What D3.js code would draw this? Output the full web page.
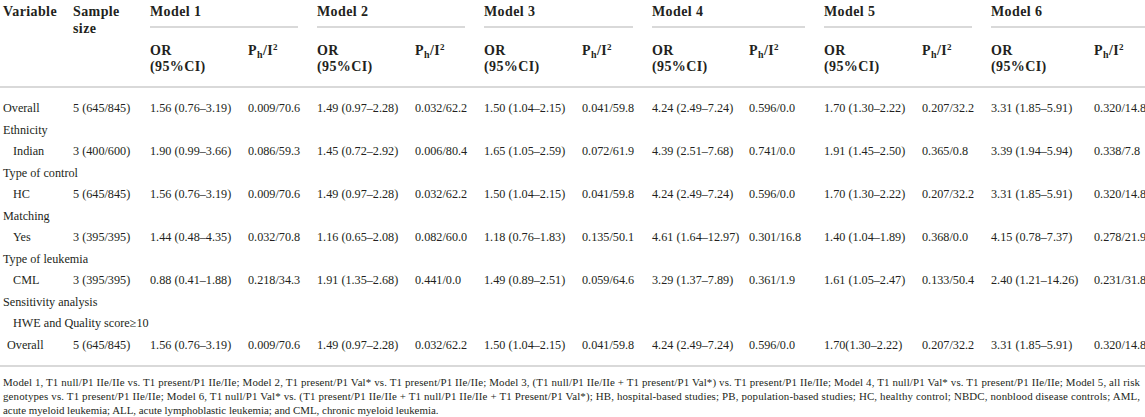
<!DOCTYPE html>
<html><head><meta charset="utf-8">
<script src="https://cdn.jsdelivr.net/npm/d3@7"></script>
<style>
html,body{margin:0;padding:0;background:#fff;}
text{font-family:"Liberation Serif","DejaVu Serif",serif;fill:#231f20;}
</style></head>
<body><svg id="c" width="1145" height="417"></svg>
<script>
// ---------- data ----------
const models = ["Model 1","Model 2","Model 3","Model 4","Model 5","Model 6"];
const rowLabels = ["Overall","Ethnicity","Indian","Type of control","HC","Matching","Yes","Type of leukemia","CML","Sensitivity analysis","HWE and Quality score≥10","Overall"];
const sampleSize = ["5 (645/845)",null,"3 (400/600)",null,"5 (645/845)",null,"3 (395/395)",null,"3 (395/395)",null,null,"5 (645/845)"];
const orM1 = ["1.56 (0.76–3.19)",null,"1.90 (0.99–3.66)",null,"1.56 (0.76–3.19)",null,"1.44 (0.48–4.35)",null,"0.88 (0.41–1.88)",null,null,"1.56 (0.76–3.19)"];
const phM1 = ["0.009/70.6",null,"0.086/59.3",null,"0.009/70.6",null,"0.032/70.8",null,"0.218/34.3",null,null,"0.009/70.6"];
const orM2 = ["1.49 (0.97–2.28)",null,"1.45 (0.72–2.92)",null,"1.49 (0.97–2.28)",null,"1.16 (0.65–2.08)",null,"1.91 (1.35–2.68)",null,null,"1.49 (0.97–2.28)"];
const phM2 = ["0.032/62.2",null,"0.006/80.4",null,"0.032/62.2",null,"0.082/60.0",null,"0.441/0.0",null,null,"0.032/62.2"];
const orM3 = ["1.50 (1.04–2.15)",null,"1.65 (1.05–2.59)",null,"1.50 (1.04–2.15)",null,"1.18 (0.76–1.83)",null,"1.49 (0.89–2.51)",null,null,"1.50 (1.04–2.15)"];
const phM3 = ["0.041/59.8",null,"0.072/61.9",null,"0.041/59.8",null,"0.135/50.1",null,"0.059/64.6",null,null,"0.041/59.8"];
const orM4 = ["4.24 (2.49–7.24)",null,"4.39 (2.51–7.68)",null,"4.24 (2.49–7.24)",null,"4.61 (1.64–12.97)",null,"3.29 (1.37–7.89)",null,null,"4.24 (2.49–7.24)"];
const phM4 = ["0.596/0.0",null,"0.741/0.0",null,"0.596/0.0",null,"0.301/16.8",null,"0.361/1.9",null,null,"0.596/0.0"];
const orM5 = ["1.70 (1.30–2.22)",null,"1.91 (1.45–2.50)",null,"1.70 (1.30–2.22)",null,"1.40 (1.04–1.89)",null,"1.61 (1.05–2.47)",null,null,"1.70(1.30–2.22)"];
const phM5 = ["0.207/32.2",null,"0.365/0.8",null,"0.207/32.2",null,"0.368/0.0",null,"0.133/50.4",null,null,"0.207/32.2"];
const orM6 = ["3.31 (1.85–5.91)",null,"3.39 (1.94–5.94)",null,"3.31 (1.85–5.91)",null,"4.15 (0.78–7.37)",null,"2.40 (1.21–14.26)",null,null,"3.31 (1.85–5.91)"];
const phM6 = ["0.320/14.8",null,"0.338/7.8",null,"0.320/14.8",null,"0.278/21.9",null,"0.231/31.8",null,null,"0.320/14.8"];
const footnotes = [
 "Model 1, T1 null/P1 IIe/IIe vs. T1 present/P1 IIe/IIe; Model 2, T1 present/P1 Val* vs. T1 present/P1 IIe/IIe; Model 3, (T1 null/P1 IIe/IIe + T1 present/P1 Val*) vs. T1 present/P1 IIe/IIe; Model 4, T1 null/P1 Val* vs. T1 present/P1 IIe/IIe; Model 5, all risk",
 "genotypes vs. T1 present/P1 IIe/IIe; Model 6, T1 null/P1 Val* vs. (T1 present/P1 IIe/IIe + T1 null/P1 IIe/IIe + T1 Present/P1 Val*); HB, hospital-based studies; PB, population-based studies; HC, healthy control; NBDC, nonblood disease controls; AML,",
 "acute myeloid leukemia; ALL, acute lymphoblastic leukemia; and CML, chronic myeloid leukemia."
];

// ---------- layout ----------
const W = 1145;
const svg = d3.select("#c");
const orCols = [orM1,orM2,orM3,orM4,orM5,orM6];
const phCols = [phM1,phM2,phM3,phM4,phM5,phM6];
const orX = [150,317,484,652,824,991];
const phX = [248,415,582,749,922,1094];
const rowIndentX = [3,3,13,3,13,3,13,3,13,3,13,7];
const y = d3.scaleLinear().domain([0, rowLabels.length-1]).range([108, 344.5]);
const lineColor = "#cdcdcd";

function txt(x, yy, s, opts={}) {
  return svg.append("text").attr("x", x).attr("y", yy).attr("dy","0.35em")
    .attr("font-size", opts.size || 12.2)
    .attr("font-weight", opts.bold ? "bold" : "normal")
    .attr("letter-spacing", opts.ls || 0)
    .text(s);
}

// header
const H = {size:14, bold:true, ls:0.4};
txt(3, 11, "Variable", H);
txt(73, 11, "Sample", H);
txt(73, 28, "size", H);
models.forEach((m,i) => {
  txt(orX[i], 11, m, H);
  const x2 = i < models.length-1 ? orX[i+1]-19 : W;
  svg.append("line").attr("x1", orX[i]).attr("x2", x2).attr("y1", 27).attr("y2", 27)
    .attr("stroke", lineColor).attr("stroke-width", 1.5);
  txt(orX[i], 50, "OR", H);
  txt(orX[i], 66, "(95%CI)", H);
  const t = txt(phX[i], 50, "", H);
  t.append("tspan").text("P");
  t.append("tspan").attr("font-size", 10).attr("baseline-shift","-3").text("h");
  t.append("tspan").text("/I");
  t.append("tspan").attr("font-size", 9).attr("baseline-shift","5").text("2");
});
svg.append("line").attr("x1",0).attr("x2",W).attr("y1",87).attr("y2",87)
  .attr("stroke", lineColor).attr("stroke-width",1.5);

// body
rowLabels.forEach((lab,i) => {
  const yy = y(i);
  txt(rowIndentX[i], yy, lab);
  if (sampleSize[i]) txt(73, yy, sampleSize[i]);
  orCols.forEach((col,k) => { if (col[i]) txt(orX[k], yy, col[i]); });
  phCols.forEach((col,k) => { if (col[i]) txt(phX[k], yy, col[i]); });
});
svg.append("line").attr("x1",0).attr("x2",W).attr("y1",366).attr("y2",366)
  .attr("stroke", lineColor).attr("stroke-width",1.5);

// footnotes
const fy = d3.scaleLinear().domain([0,2]).range([382,410]);
footnotes.forEach((f,i) => {
  const t = txt(3, fy(i), f, {size:10.9});
  if (i < 2) t.attr("textLength", 1137).attr("lengthAdjust","spacing");
});
</script></body></html>
